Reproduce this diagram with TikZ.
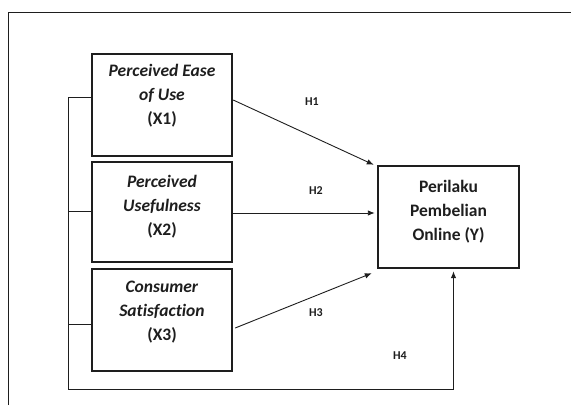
\documentclass[tikz,border=0pt]{standalone}
\usepackage{fontspec}
\setmainfont{Carlito}[Ligatures=NoCommon]
\usetikzlibrary{arrows.meta,positioning,calc}
\definecolor{ink}{HTML}{1E1E1E}
\tikzstyle{varbox}=[rectangle,draw=ink,line width=2.4pt,minimum width=140pt,minimum height=102pt,inner sep=0pt]
\tikzstyle{vartext}=[align=center,text=ink,font=\fontsize{17.5}{24}\selectfont\bfseries]
\tikzstyle{link}=[draw=ink,line width=0.9pt]
\tikzstyle{arrowlink}=[link,-{Latex[length=7pt,width=5.5pt]}]
\tikzstyle{hyp}=[text=ink,font=\fontsize{12}{13}\selectfont\bfseries]

\begin{document}
\begin{tikzpicture}[x=1pt,y=-1pt]

    % page and frame
    \useasboundingbox (0,0) rectangle (571,405);
    \draw[link] (8,405) -- (8,12) -- (571,12);

    % the boxes
    \node[varbox] (x1) at (162,105) {};
    \node[varbox,minimum height=100pt] (x2) at (162,212) {};
    \node[varbox] (x3) at (162,320) {};
    \node[varbox,minimum width=141pt] (y) at (448.5,217) {};

    % texts in the boxes
    \node[vartext] (x1text) at ([yshift=9pt]x1.center) {\textit{Perceived Ease}\\\textit{of Use}\\(X1)};
    \node[vartext] (x2text) at ([yshift=5pt]x2.center) {\textit{Perceived}\\\textit{Usefulness}\\(X2)};
    \node[vartext] (x3text) at ([yshift=8pt]x3.center) {\textit{Consumer}\\\textit{Satisfaction}\\(X3)};
    \node[vartext] (ytext) at ([yshift=5pt]y.center) {Perilaku\\Pembelian\\Online (Y)};

    % hypotheses
    \draw[arrowlink] ([yshift=5pt]x1.east) -- ([xshift=-3pt]y.north west);
    \draw[arrowlink] ([yshift=-1pt]x2.east) -- ([xshift=-2pt,yshift=4pt]y.west);
    \draw[arrowlink] ([xshift=2pt,yshift=-8pt]x3.east) -- ([xshift=-5pt,yshift=-4pt]y.south west);

    % joint path
    \coordinate (busTop) at (68,97);
    \coordinate (busBot) at (68,389);
    \draw[arrowlink] ([yshift=8pt]x1.west) -| (busBot) -| ([xshift=5pt,yshift=-2pt]y.south);
    \draw[link] ([yshift=1pt]x2.west) -| (busTop);
    \draw[link] ([yshift=-4pt]x3.west) -| (busTop);

    % labels
    \node[hyp] (h1) at (312,102) {H1};
    \node[hyp] (h2) at (316,191) {H2};
    \node[hyp] (h3) at (316,313) {H3};
    \node[hyp] (h4) at (400,356) {H4};

\end{tikzpicture}
\end{document}
